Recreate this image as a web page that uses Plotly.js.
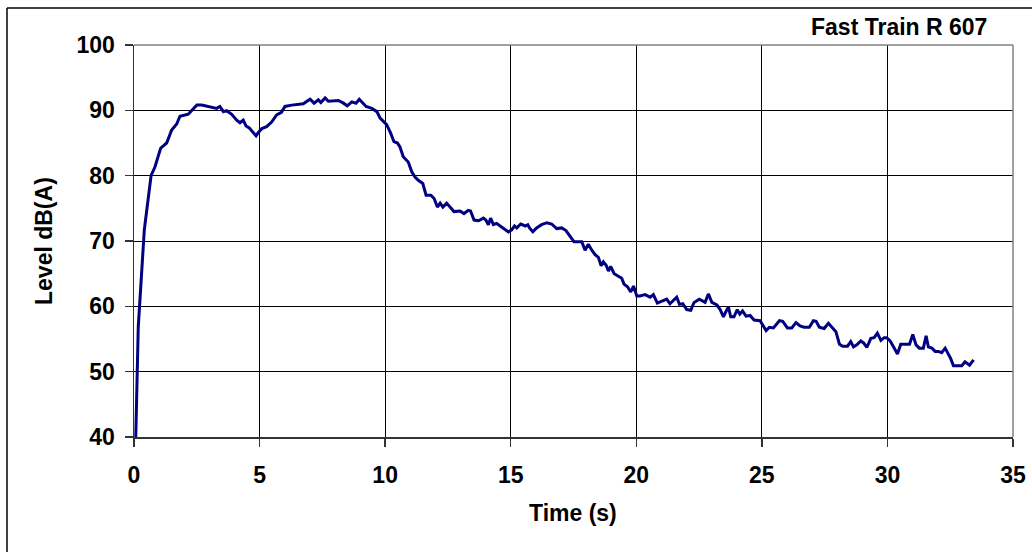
<!DOCTYPE html>
<html>
<head>
<meta charset="utf-8">
<script src="https://cdn.plot.ly/plotly-3.0.1.min.js"></script>
<style>html,body{margin:0;padding:0;background:#fff;}#chart{width:1032px;height:552px;}</style>
</head>
<body>
<div id="chart"></div>
<script>
const timeS = [0.07,0.17,0.41,0.55,0.68,0.84,1.06,1.30,1.50,1.70,1.83,2.16,2.30,2.50,2.70,2.96,3.16,3.29,3.42,3.56,3.69,3.89,4.09,4.22,4.35,4.46,4.59,4.73,4.86,4.95,5.09,5.28,5.48,5.68,5.81,5.87,6.01,6.28,6.74,6.88,7.01,7.17,7.34,7.44,7.61,7.74,7.94,8.14,8.34,8.49,8.67,8.84,8.97,9.10,9.24,9.47,9.67,9.80,9.93,10.06,10.22,10.35,10.49,10.59,10.72,10.92,11.06,11.19,11.32,11.50,11.63,11.82,11.95,12.08,12.19,12.30,12.45,12.58,12.74,12.98,13.14,13.31,13.40,13.54,13.72,13.91,14.01,14.11,14.20,14.31,14.44,14.58,14.74,14.91,15.04,15.15,15.24,15.40,15.58,15.68,15.75,15.88,16.03,16.23,16.44,16.63,16.83,17.03,17.20,17.36,17.52,17.65,17.83,17.96,18.09,18.23,18.36,18.49,18.60,18.69,18.80,18.89,18.98,19.12,19.29,19.42,19.51,19.65,19.78,19.89,20.02,20.15,20.35,20.55,20.68,20.84,21.02,21.21,21.34,21.48,21.61,21.72,21.85,22.01,22.17,22.30,22.51,22.74,22.87,23.01,23.21,23.34,23.47,23.57,23.67,23.76,23.89,24.02,24.12,24.23,24.37,24.53,24.69,24.93,25.06,25.17,25.30,25.46,25.70,25.83,26.02,26.19,26.36,26.52,26.68,26.89,27.05,27.16,27.29,27.48,27.65,27.79,27.95,28.09,28.22,28.41,28.54,28.65,28.78,28.94,29.05,29.18,29.34,29.47,29.60,29.74,29.87,29.97,30.11,30.24,30.40,30.53,30.70,30.88,31.01,31.14,31.27,31.43,31.54,31.63,31.77,31.90,32.03,32.16,32.30,32.43,32.52,32.63,32.79,32.96,33.09,33.27,33.43];
const levelDbA = [40.0,56.9,71.7,76.3,80.0,81.4,84.2,85.0,87.0,87.9,89.1,89.4,89.95,90.8,90.8,90.6,90.4,90.3,90.6,89.8,89.95,89.4,88.5,88.1,88.5,87.6,87.3,86.6,86.1,86.6,87.2,87.5,88.2,89.3,89.5,89.7,90.6,90.8,91.0,91.3,91.7,91.1,91.6,91.2,91.9,91.4,91.5,91.5,91.1,90.7,91.3,91.1,91.7,91.2,90.6,90.3,89.8,88.8,88.3,87.8,86.5,85.2,85.0,84.4,82.9,82.1,80.6,79.8,79.3,78.8,77.0,77.0,76.5,75.2,75.8,75.2,75.8,75.2,74.5,74.6,74.2,74.7,74.6,73.2,73.1,73.5,73.2,72.5,73.5,72.5,72.7,72.3,71.8,71.4,71.7,72.3,72.0,72.6,72.3,72.5,72.0,71.4,72.0,72.5,72.8,72.6,71.9,72.0,71.6,70.7,69.9,69.9,69.9,68.6,69.5,68.6,67.9,67.5,66.2,66.8,66.3,65.4,66.1,65.0,64.6,64.3,63.4,63.0,62.2,63.1,61.6,61.6,61.8,61.4,61.8,60.5,60.8,61.1,60.4,61.0,61.4,60.3,60.4,59.5,59.4,60.6,61.1,60.6,61.9,60.6,60.2,59.5,58.4,59.2,59.9,58.4,58.4,59.5,58.8,59.3,58.5,58.6,57.9,57.8,57.0,56.3,56.8,56.7,57.8,57.7,56.7,56.7,57.5,57.0,56.8,56.8,57.8,57.7,56.8,56.6,57.4,56.8,56.1,54.2,53.9,53.9,54.6,53.8,54.1,54.7,54.4,53.7,55.1,55.2,55.9,54.8,55.2,55.2,54.7,53.8,52.7,54.2,54.2,54.2,55.7,54.1,53.6,53.6,55.5,53.8,53.6,53.1,53.1,52.9,53.6,52.7,52.0,50.9,50.9,50.9,51.5,51.0,51.8];
const xTicks = [0,5,10,15,20,25,30,35];
const yTicks = [40,50,60,70,80,90,100];
const chartLabel = 'Fast Train R 607';
const xLabel = 'Time (s)';
const yLabel = 'Level dB(A)';

const fontFam = '"Liberation Sans", Arial, sans-serif';
const L = 134, R = 1013, T = 45, B = 437;
const W = R - L, H = B - T;
const px = v => (v - L) / W;
const py = v => (B - v) / H;
const txt = {family: fontFam, size: 23, color: '#000', weight: 700};

const trace = {
  x: timeS, y: levelDbA, type: 'scatter', mode: 'lines',
  line: {color: '#000080', width: 3},
  hoverinfo: 'skip'
};

const layout = {
  width: 1032, height: 552,
  margin: {l: L, r: 1032 - R, t: T, b: 552 - B, pad: 0},
  paper_bgcolor: '#ffffff', plot_bgcolor: '#ffffff',
  showlegend: false,
  font: txt,
  xaxis: {
    range: [0, 35], tickvals: xTicks, ticktext: xTicks.map(String),
    showgrid: true, gridcolor: '#000', gridwidth: 1,
    zeroline: false, showline: true, linecolor: '#333', linewidth: 1.5,
    ticks: 'outside', ticklen: 8, tickcolor: '#333', tickwidth: 1.5,
    ticklabelstandoff: 9,
    tickfont: txt, fixedrange: true
  },
  yaxis: {
    range: [40, 100], tickvals: yTicks, ticktext: yTicks.map(String),
    showgrid: true, gridcolor: '#000', gridwidth: 1,
    zeroline: false, showline: true, linecolor: '#333', linewidth: 1.5,
    ticks: 'outside', ticklen: 8, tickcolor: '#333', tickwidth: 1.5,
    ticklabelstandoff: 5,
    tickfont: txt, fixedrange: true
  },
  shapes: [
    {type: 'line', xref: 'paper', yref: 'paper', x0: 0, x1: 1, y0: 1, y1: 1, line: {color: '#808080', width: 1.5}},
    {type: 'line', xref: 'paper', yref: 'paper', x0: 1, x1: 1, y0: 0, y1: 1, line: {color: '#808080', width: 1.5}},
    {type: 'line', xref: 'paper', yref: 'paper', x0: px(7), x1: px(1040), y0: py(8), y1: py(8), line: {color: '#000', width: 1.5}},
    {type: 'line', xref: 'paper', yref: 'paper', x0: px(7), x1: px(7), y0: py(8), y1: py(560), line: {color: '#000', width: 1.5}}
  ],
  annotations: [
    {text: chartLabel, xref: 'paper', yref: 'paper', x: px(989), y: py(27.5), xanchor: 'right', yanchor: 'middle', showarrow: false, font: txt},
    {text: xLabel, xref: 'paper', yref: 'paper', x: px(573), y: py(513), xanchor: 'center', yanchor: 'middle', showarrow: false, font: txt},
    {text: yLabel, xref: 'paper', yref: 'paper', x: px(44), y: py(241), xanchor: 'center', yanchor: 'middle', showarrow: false, textangle: -90, font: txt}
  ]
};

Plotly.newPlot('chart', [trace], layout, {displayModeBar: false, staticPlot: true});
</script>
</body>
</html>
